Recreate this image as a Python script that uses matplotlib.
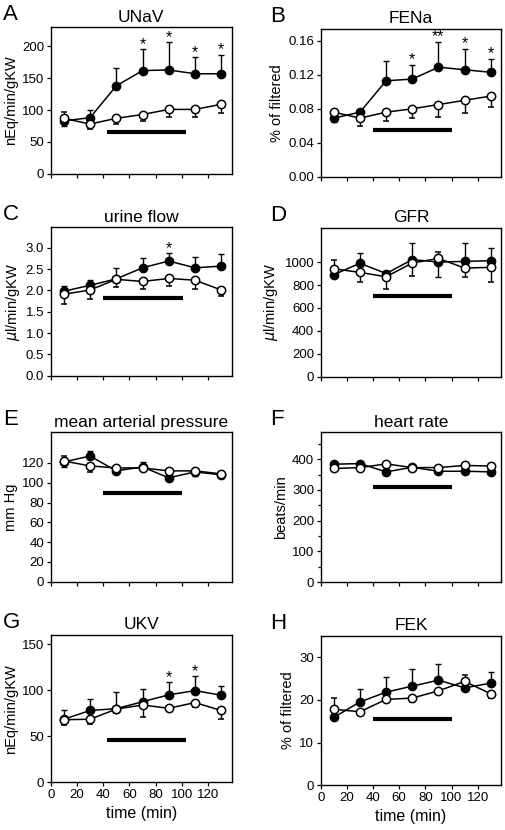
import numpy as np
import matplotlib
matplotlib.use("Agg")
import matplotlib.pyplot as plt
from matplotlib.ticker import MultipleLocator

plt.rcParams['font.family'] = ['Liberation Sans', 'DejaVu Sans']

time = [10, 30, 50, 70, 90, 110, 130]

# A UNaV
unav_filled = [83, 88, 138, 162, 163, 157, 157]
unav_filled_err = [8, 12, 28, 34, 44, 26, 30]
unav_open = [87, 78, 87, 93, 101, 101, 109]
unav_open_err = [10, 8, 9, 10, 12, 12, 14]
unav_stars = ['', '', '', '*', '*', '*', '*']

# B FENa
fena_filled = [0.069, 0.076, 0.113, 0.115, 0.129, 0.126, 0.123]
fena_filled_err = [0.005, 0.003, 0.023, 0.017, 0.030, 0.025, 0.016]
fena_open = [0.076, 0.069, 0.076, 0.080, 0.085, 0.090, 0.095]
fena_open_err = [0.002, 0.009, 0.010, 0.011, 0.015, 0.015, 0.013]
fena_stars = ['', '', '', '*', '**', '*', '*']

# C urine flow
flow_filled = [1.98, 2.12, 2.27, 2.53, 2.69, 2.53, 2.57]
flow_filled_err = [0.12, 0.13, 0.25, 0.23, 0.19, 0.26, 0.29]
flow_open = [1.91, 2.01, 2.26, 2.21, 2.28, 2.24, 2.01]
flow_open_err = [0.24, 0.22, 0.18, 0.17, 0.17, 0.21, 0.14]
flow_stars = ['', '', '', '', '*', '', '']

# D GFR
gfr_filled = [890, 990, 900, 1022, 1000, 1006, 1012]
gfr_filled_err = [15, 90, 20, 142, 130, 159, 113]
gfr_open = [942, 910, 872, 992, 1032, 948, 954]
gfr_open_err = [78, 85, 107, 112, 52, 78, 125]
gfr_stars = ['', '', '', '', '', '', '']

# E mean arterial pressure
map_filled = [121, 127, 112, 116, 105, 111, 108]
map_filled_err = [5, 5, 2, 5, 2, 4, 2]
map_open = [122, 117, 115, 115, 112, 112, 109]
map_open_err = [5, 6, 2, 2, 2, 2, 2]
map_stars = ['', '', '', '', '', '', '']

# F heart rate
hr_filled = [384, 386, 359, 374, 361, 361, 359]
hr_filled_err = [5, 5, 5, 8, 5, 5, 5]
hr_open = [370, 373, 385, 373, 373, 380, 378]
hr_open_err = [5, 5, 5, 5, 5, 5, 5]
hr_stars = ['', '', '', '', '', '', '']

# G UKV
ukv_filled = [68.5, 78, 80, 87.5, 95, 99.6, 94.6]
ukv_filled_err = [9.5, 13, 18, 14, 14, 16, 10]
ukv_open = [68, 68.5, 79.5, 84, 80.4, 86.6, 78]
ukv_open_err = [6, 5, 4, 13, 3, 5, 9]
ukv_stars = ['', '', '', '', '*', '*', '']

# H FEK
fek_filled = [15.9, 19.5, 21.8, 23.2, 24.6, 22.8, 23.9]
fek_filled_err = [0.7, 3.1, 3.6, 3.9, 3.7, 0.7, 2.6]
fek_open = [17.8, 17.2, 20.1, 20.4, 22.1, 24.3, 21.4]
fek_open_err = [2.7, 0.5, 0.5, 1.0, 0.5, 1.4, 0.9]
fek_stars = ['', '', '', '', '', '', '']

letters = ['A', 'B', 'C', 'D', 'E', 'F', 'G', 'H']
titles = ['UNaV', 'FENa', 'urine flow', 'GFR', 'mean arterial pressure',
          'heart rate', 'UKV', 'FEK']
ylabels = ['nEq/min/gKW', '% of filtered', r'$\mu$l/min/gKW', r'$\mu$l/min/gKW',
           'mm Hg', 'beats/min', 'nEq/min/gKW', '% of filtered']
ylims = [230, 0.174, 3.48, 1300, 151, 488, 160, 35]
ystep = [50, 0.04, 0.5, 200, 20, 100, 50, 10]
ymax_tick = [200, 0.16, 3.0, 1000, 120, 400, 150, 30]
yfmt = ['{:.0f}', '{:.2f}', '{:.1f}', '{:.0f}', '{:.0f}', '{:.0f}', '{:.0f}', '{:.0f}']
bar_level = [65, 0.055, 1.82, 700, 90, 311, 45.5, 15.6]
bar_start = [43, 40, 40, 40, 40, 40, 43, 40]
bar_end = [103, 100, 101, 100, 100, 100, 103, 100]

filled_all = [unav_filled, fena_filled, flow_filled, gfr_filled, map_filled, hr_filled, ukv_filled, fek_filled]
filled_err_all = [unav_filled_err, fena_filled_err, flow_filled_err, gfr_filled_err, map_filled_err, hr_filled_err, ukv_filled_err, fek_filled_err]
open_all = [unav_open, fena_open, flow_open, gfr_open, map_open, hr_open, ukv_open, fek_open]
open_err_all = [unav_open_err, fena_open_err, flow_open_err, gfr_open_err, map_open_err, hr_open_err, ukv_open_err, fek_open_err]
stars_all = [unav_stars, fena_stars, flow_stars, gfr_stars, map_stars, hr_stars, ukv_stars, fek_stars]

# axes boxes in pixel coordinates (left, top, right, bottom)
boxes = [(50.7, 27.3, 231.7, 173.7), (320.7, 29.0, 501.3, 176.7),
         (50.7, 227.3, 231.7, 375.7), (320.7, 227.7, 501.3, 376.7),
         (50.7, 432.3, 231.7, 581.7), (320.7, 432.3, 501.3, 582.0),
         (50.7, 635.0, 231.7, 782.3), (320.7, 635.7, 501.3, 785.3)]

W, H = 506, 830
fig = plt.figure(figsize=(W / 100, H / 100), dpi=100)

for i in range(8):
    l, t, r, b = boxes[i]
    ax = fig.add_axes([l / W, 1 - b / H, (r - l) / W, (b - t) / H])
    f = np.array(filled_all[i], float)
    fe = np.array(filled_err_all[i], float)
    o = np.array(open_all[i], float)
    oe = np.array(open_err_all[i], float)
    up = f >= o
    f_yerr = [np.where(up, 0, fe), np.where(up, fe, 0)]
    o_yerr = [np.where(up, oe, 0), np.where(up, 0, oe)]

    ax.errorbar(time, f, yerr=f_yerr, fmt='-o', color='black', mfc='black', mec='black',
                ms=6, lw=1.1, elinewidth=1.0, capsize=2.3, capthick=1.0, zorder=3)
    ax.errorbar(time, o, yerr=o_yerr, fmt='-o', color='black', mfc='white', mec='black',
                ms=6, mew=1.1, lw=1.1, elinewidth=1.0, capsize=2.3, capthick=1.0, zorder=4)

    for x, y, e, u, s in zip(time, f, fe, up, stars_all[i]):
        if s:
            top = y + e if u else y
            ax.annotate(s, (x, top), xytext=(0, -2), textcoords='offset points',
                        ha='center', va='bottom', fontsize=11.5)

    ax.plot([bar_start[i], bar_end[i]], [bar_level[i], bar_level[i]], color='black',
            lw=3.0, solid_capstyle='butt', zorder=2)

    ax.set_xlim(0, 138)
    ax.set_ylim(0, ylims[i])
    ax.set_xticks(np.arange(0, 121, 20))
    yt = np.arange(0, ymax_tick[i] + ystep[i] * 0.01, ystep[i])
    ax.set_yticks(yt)
    ax.set_yticklabels([yfmt[i].format(v) for v in yt])
    if i == 5:
        ax.yaxis.set_minor_locator(MultipleLocator(50))
    ax.tick_params(direction='out', length=3.2, width=0.9, labelsize=9.5, pad=1.5)
    ax.tick_params(which='minor', direction='out', length=2.2, width=0.9)
    if i >= 6:
        ax.set_xlabel('time (min)', fontsize=11.5, labelpad=4)
    else:
        ax.tick_params(axis='x', labelbottom=False)
    for sp in ax.spines.values():
        sp.set_linewidth(1.0)
    ax.set_title(titles[i], fontsize=12.5, pad=4)
    ax.set_ylabel(ylabels[i], fontsize=10.5, labelpad=3)
    # panel letter
    fig.text((l - 48) / W if i % 2 == 0 else (l - 51) / W, 1 - (t - 7) / H, letters[i],
             fontsize=16, ha='left', va='baseline')

fig.savefig('out.png', dpi=100)
